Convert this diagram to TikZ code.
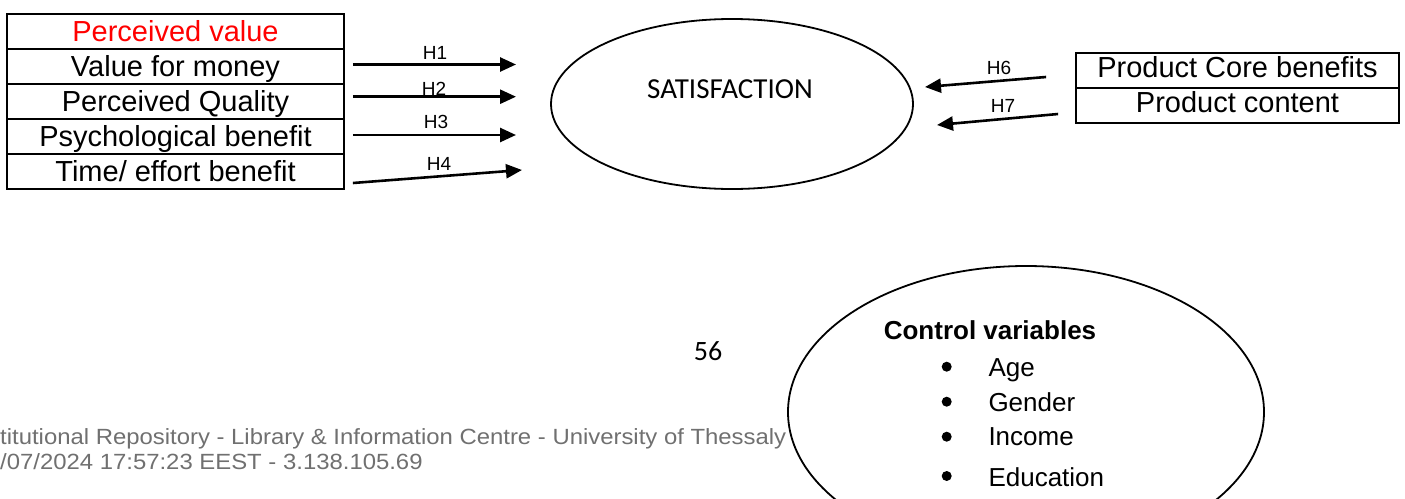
\documentclass[tikz,border=0pt]{standalone}
\usepackage{fontspec}
\setmainfont[Ligatures=NoCommon]{Liberation Sans}
\newfontfamily\calibri{Carlito}
\usetikzlibrary{arrows.meta,shapes.geometric}
\definecolor{footgray}{RGB}{112,112,112}
\begin{document}
\begin{tikzpicture}[x=1pt,y=-1pt,
  cell/.style={draw, line width=1.8pt, minimum width=337pt, minimum height=35pt, inner sep=0pt,
    font=\fontsize{29}{34}\selectfont, text height=20.8pt, text depth=0pt},
  rcell/.style={cell, minimum width=323pt, text depth=6.8pt},
  arr/.style={line width=2.6pt, -{Triangle[length=16pt,width=14pt]}},
  hlab/.style={inner sep=0pt, font=\fontsize{19}{22}\selectfont, text height=13.6pt, text depth=0pt},
  oval/.style={draw, ellipse, line width=1.8pt, inner sep=0pt},
  item/.style={anchor=west, inner sep=0pt, font=\fontsize{26}{30}\selectfont, text height=18.6pt, text depth=0pt},
  dot/.style={circle, fill, inner sep=0pt, minimum size=10pt},
  foot/.style={anchor=west, inner sep=0pt, text=footgray, text height=15.75pt, text depth=0pt},
]
\useasboundingbox (0,0) rectangle (1405,498);

% left boxes
\node[cell, text=red] (pv) at (175.5,31.5) {Perceived value};
\node[cell] (vfm) at (175.5,66.5) {Value for money};
\node[cell] (pq) at (175.5,101.5) {Perceived Quality};
\node[cell] (psy) at (175.5,136.5) {Psychological benefit};
\node[cell] (teb) at (175.5,171.5) {Time/ effort benefit};

% satisfaction
\node[oval, minimum width=362pt, minimum height=170pt] (sat) at (732,104) {};
\node[inner sep=0pt, font=\calibri\fontsize{29}{34}\selectfont, text height=18.7pt, text depth=0pt] (sattxt) at (730,89.5) {SATISFACTION};

% right boxes
\node[rcell] (pcb) at (1237.5,70.5) {Product Core benefits};
\node[rcell] (pc) at (1237.5,105.5) {Product content};

% arrow ends
\coordinate (e1) at (516,64.5);
\coordinate (e2) at (516,96.7);
\coordinate (e3) at (516,135);
\coordinate (e4) at (522,170);
\coordinate (e6) at (925,87);
\coordinate (e7) at (937,125);

\draw[arr] ([xshift=8pt,yshift=2pt]vfm.east) -- (e1);
\draw[arr] ([xshift=8pt,yshift=4.8pt]pq.east) -- (e2);
\draw[arr] ([xshift=8pt,yshift=1.5pt]psy.east) -- (e3);
\draw[arr] ([xshift=8pt,yshift=-11.5pt]teb.east) -- (e4);
\draw[arr] ([xshift=-29pt,yshift=-6.5pt]pcb.west) -- (e6);
\draw[arr] ([xshift=-17pt,yshift=-8.5pt]pc.west) -- (e7);

\node[hlab] (h1) at (435,53) {H1};
\node[hlab] (h2) at (434,88.3) {H2};
\node[hlab] (h3) at (436,121.7) {H3};
\node[hlab] (h4) at (439,163.3) {H4};
\node[hlab] (h6) at (999,67.5) {H6};
\node[hlab] (h7) at (1003,105.8) {H7};

% control variables
\begin{scope}
\clip (0,0) rectangle (1405,498);
\node[oval, minimum width=476pt, minimum height=292pt] (ctrl) at (1026,412) {};
\end{scope}
\node[inner sep=0pt, font=\bfseries\fontsize{26}{30}\selectfont, text height=18.6pt, text depth=0pt] (cv) at (990,330.5) {Control variables};
\node[dot] (b1) at (946.7,366.7) {};
\node[dot] (b2) at (946.7,401.7) {};
\node[dot] (b3) at (946.7,436.7) {};
\node[dot] (b4) at (946.7,476) {};
\node[item] (i1) at (988.3,367) {Age};
\node[item] (i2) at (988.3,401.7) {Gender};
\node[item] (i3) at (988.3,436.5) {Income};
\node[item] (i4) at (988.3,476.7) {Education};

% page number
\node[inner sep=0pt, font=\calibri\fontsize{28}{32}\selectfont, text height=17.7pt, text depth=0pt] (pg) at (708,351.2) {56};

% footer
\node[foot] (f1) at (0,437) {\scalebox{1.086}[1]{\fontsize{22}{26}\selectfont titutional Repository - Library \& Information Centre - University of Thessaly}};
\node[foot] (f2) at (0,461.7) {\scalebox{1.086}[1]{\fontsize{22}{26}\selectfont /07/2024 17:57:23 EEST - 3.138.105.69}};
\end{tikzpicture}
\end{document}
